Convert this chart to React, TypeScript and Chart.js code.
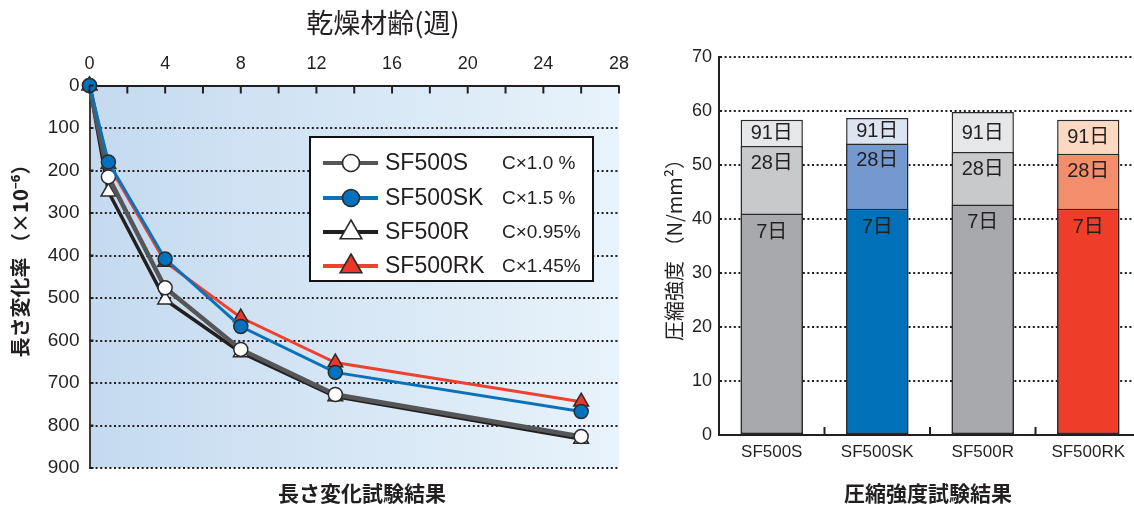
import React, { useEffect, useRef } from "react";
import { Chart, registerables } from "chart.js";

Chart.register(...registerables);

// ---------- Left chart: length change (×10^-6) vs drying age (weeks) ----------
const dryingWeeks = [0, 1, 4, 8, 13, 26];
const lenSF500S = [0, 215, 476, 621, 727, 826];
const lenSF500SK = [0, 180, 408, 567, 675, 767];
const lenSF500R = [0, 250, 504, 628, 732, 832];
const lenSF500RK = [0, 185, 415, 546, 652, 744];
const lengthSeriesNames = ["SF500S", "SF500SK", "SF500R", "SF500RK"];
const cementNotes = ["C×1.0 %", "C×1.5 %", "C×0.95%", "C×1.45%"];
const weekTickLabels = [0, 4, 8, 12, 16, 20, 24, 28];
const weekMinorTicks = [0, 2, 4, 6, 8, 10, 12, 14, 16, 18, 20, 22, 24, 26, 28];
const lengthTickLabels = [0, 100, 200, 300, 400, 500, 600, 700, 800, 900];

// ---------- Right chart: compressive strength (N/mm2) ----------
const mixNames = ["SF500S", "SF500SK", "SF500R", "SF500RK"];
const ageLabels = ["7日", "28日", "91日"];
const strength7d = [41.0, 41.9, 42.7, 41.9];
const strength28d = [53.5, 54.0, 52.4, 52.1];
const strength91d = [58.4, 58.7, 59.8, 58.4];
const strengthTicks = [0, 10, 20, 30, 40, 50, 60, 70];

// ---------- styles ----------
const LATIN = '"Liberation Sans", Arial, "Noto Sans CJK JP", sans-serif';
const CJK = '"Noto Sans CJK JP", "Noto Sans", sans-serif';
const INK = "#231f20";
const lineColors = ["#555658", "#0b72b9", "#231f20", "#ee4130"];
const lineWidths = [4.5, 3, 3.5, 3];
const markerFills = ["#ffffff", "#0071bc", "#ffffff", "#e8382a"];
const markerStyles = ["circle", "circle", "triangle", "triangle"];
const drawOrder = [1, 0, 3, 2];
const color7 = ["#a7a8ab", "#0070b9", "#a7a8ab", "#ee3e2a"];
const color28 = ["#c8c9cb", "#7399d0", "#c8c9cb", "#f48d6c"];
const color91 = ["#e6e7e9", "#dce4f2", "#e6e7e9", "#fdd9c2"];

const LEFT_W = 640;
const RIGHT_X = 645;
const RIGHT_W = 497;
const H = 506;

function drawTriangle(ctx: CanvasRenderingContext2D, cx: number, cy: number, r: number) {
  const s = Math.sin(Math.PI / 3);
  ctx.beginPath();
  ctx.moveTo(cx, cy - r);
  ctx.lineTo(cx + r * s, cy + r / 2);
  ctx.lineTo(cx - r * s, cy + r / 2);
  ctx.closePath();
}

const leftPlugin = {
  id: "leftDecor",
  beforeDraw(chart: any) {
    const { ctx, chartArea: a } = chart;
    const g = ctx.createLinearGradient(a.left, 0, a.right, 0);
    g.addColorStop(0, "#c5daef");
    g.addColorStop(1, "#e8f3fb");
    ctx.save();
    ctx.fillStyle = g;
    ctx.fillRect(a.left, a.top, a.right - a.left, a.bottom - a.top);
    ctx.restore();
  },
  afterDraw(chart: any) {
    const { ctx, chartArea: a } = chart;
    const xs = chart.scales.x;
    const ys = chart.scales.y;
    ctx.save();
    // inner ticks on top axis
    ctx.strokeStyle = INK;
    ctx.lineWidth = 2;
    weekMinorTicks.forEach((w) => {
      const x = xs.getPixelForValue(w);
      ctx.beginPath();
      ctx.moveTo(x, a.top);
      ctx.lineTo(x, a.top + 8);
      ctx.stroke();
    });
    // short solid ticks on left axis
    lengthTickLabels.forEach((v) => {
      const y = ys.getPixelForValue(v);
      ctx.beginPath();
      ctx.moveTo(a.left, y);
      ctx.lineTo(a.left + 4, y);
      ctx.stroke();
    });

    // legend
    const bx = 310, by = 137, bw = 283, bh = 144;
    ctx.fillStyle = "#ffffff";
    ctx.fillRect(bx, by, bw, bh);
    ctx.lineWidth = 2;
    ctx.strokeStyle = "#111";
    ctx.strokeRect(bx, by, bw, bh);
    const rows = [163, 198, 232, 266];
    lengthSeriesNames.forEach((name, i) => {
      const cy = rows[i];
      ctx.strokeStyle = lineColors[i];
      ctx.lineWidth = 4;
      ctx.beginPath();
      ctx.moveTo(323, cy);
      ctx.lineTo(378, cy);
      ctx.stroke();
      ctx.fillStyle = markerFills[i];
      ctx.strokeStyle = "#2b2b2b";
      ctx.lineWidth = 1.6;
      if (markerStyles[i] === "circle") {
        ctx.beginPath();
        ctx.arc(351, cy, 8.5, 0, Math.PI * 2);
      } else {
        drawTriangle(ctx, 351, cy + 0.5, 12.5);
      }
      ctx.fill();
      ctx.stroke();
      ctx.fillStyle = INK;
      ctx.textBaseline = "middle";
      ctx.textAlign = "left";
      ctx.font = `23px ${LATIN}`;
      ctx.fillText(name, 385, cy + 1);
      ctx.font = `19px ${LATIN}`;
      ctx.fillText(cementNotes[i], 502, cy + 1);
    });

    // titles
    ctx.fillStyle = INK;
    ctx.textAlign = "center";
    ctx.textBaseline = "middle";
    ctx.font = `27px ${CJK}`;
    ctx.fillText("乾燥材齢(週)", 383, 23);
    ctx.font = `bold 21px ${CJK}`;
    ctx.fillText("長さ変化試験結果", 362, 493);
    ctx.translate(20, 256);
    ctx.rotate(-Math.PI / 2);
    ctx.font = `bold 20px ${CJK}`;
    ctx.fillText("長さ変化率 （×10⁻⁶）", 0, 0);
    ctx.restore();
  },
};

const rightPlugin = {
  id: "rightDecor",
  afterDatasetsDraw(chart: any) {
    const { ctx, chartArea: a } = chart;
    const m7 = chart.getDatasetMeta(0).data;
    const m28 = chart.getDatasetMeta(1).data;
    const m91 = chart.getDatasetMeta(2).data;
    ctx.save();
    ctx.fillStyle = INK;
    ctx.textAlign = "center";
    ctx.textBaseline = "middle";
    ctx.font = `20px ${LATIN}`;
    mixNames.forEach((_, i) => {
      ctx.fillText(ageLabels[2], m91[i].x, (m91[i].y + m28[i].y) / 2 + 1);
      ctx.fillText(ageLabels[1], m28[i].x, m28[i].y + 17.5);
      ctx.fillText(ageLabels[0], m7[i].x, m7[i].y + 18.5);
    });
    // small inner ticks between categories
    ctx.strokeStyle = INK;
    ctx.lineWidth = 2;
    for (let i = 0; i < m7.length - 1; i++) {
      const x = (m7[i].x + m7[i + 1].x) / 2;
      ctx.beginPath();
      ctx.moveTo(x, a.bottom);
      ctx.lineTo(x, a.bottom - 8);
      ctx.stroke();
    }
    ctx.restore();
  },
  afterDraw(chart: any) {
    const { ctx } = chart;
    ctx.save();
    ctx.fillStyle = INK;
    ctx.textAlign = "center";
    ctx.textBaseline = "middle";
    ctx.font = `bold 21px ${CJK}`;
    ctx.fillText("圧縮強度試験結果", 928 - RIGHT_X, 493);
    ctx.translate(674 - RIGHT_X, 245);
    ctx.rotate(-Math.PI / 2);
    ctx.font = `20px ${CJK}`;
    ctx.fillText("圧縮強度 （N/mm²）", 0, 0);
    ctx.restore();
  },
};

function LengthChart() {
  const ref = useRef<HTMLCanvasElement>(null);
  useEffect(() => {
    const series = [lenSF500S, lenSF500SK, lenSF500R, lenSF500RK];
    const chart = new Chart(ref.current as HTMLCanvasElement, {
      type: "line",
      data: {
        datasets: series.map((ys, i) => ({
          label: lengthSeriesNames[i],
          data: dryingWeeks.map((w, k) => ({ x: w, y: ys[k] })),
          borderColor: lineColors[i],
          borderWidth: lineWidths[i],
          backgroundColor: markerFills[i],
          pointStyle: markerStyles[i] as any,
          pointRadius: markerStyles[i] === "circle" ? 7 : 8.5,
          pointBackgroundColor: markerFills[i],
          pointBorderColor: "#2b2b2b",
          pointBorderWidth: 1.5,
          tension: 0,
          fill: false,
          clip: false as any,
          order: drawOrder[i],
        })),
      },
      options: {
        responsive: false,
        animation: false,
        events: [],
        layout: { padding: { left: 0, top: 0, right: LEFT_W - 622, bottom: H - 468 }, autoPadding: false } as any,
        plugins: { legend: { display: false }, tooltip: { enabled: false }, title: { display: false } },
        scales: {
          x: {
            type: "linear",
            position: "top",
            min: 0,
            max: 28,
            afterFit: (s: any) => { s.height = 85.5; },
            afterBuildTicks: (s: any) => { s.ticks = weekTickLabels.map((v) => ({ value: v })); },
            ticks: { font: { family: LATIN, size: 18 }, color: INK, padding: 11, maxRotation: 0, autoSkip: false },
            grid: { drawOnChartArea: false, drawTicks: false },
            border: { display: true, color: INK, width: 2 },
          },
          y: {
            type: "linear",
            reverse: true,
            min: 0,
            max: 900,
            afterFit: (s: any) => { s.width = 89.5; },
            afterBuildTicks: (s: any) => { s.ticks = lengthTickLabels.map((v) => ({ value: v })); },
            ticks: { font: { family: LATIN, size: 19 }, color: INK, padding: 10, autoSkip: false },
            grid: { color: INK, lineWidth: 2, drawTicks: false },
            border: { display: true, color: "#3a3a3a", width: 2, dash: [2, 2.6] },
          },
        },
      },
      plugins: [leftPlugin],
    });
    return () => chart.destroy();
  }, []);
  return (
    <canvas
      ref={ref}
      width={LEFT_W}
      height={H}
      style={{ position: "absolute", left: 0, top: 0, width: LEFT_W, height: H }}
    />
  );
}

function StrengthChart() {
  const ref = useRef<HTMLCanvasElement>(null);
  useEffect(() => {
    const common = {
      borderColor: "#2b2b2b",
      borderWidth: 1.5,
      borderSkipped: false as any,
      grouped: false,
      categoryPercentage: 1,
      barPercentage: 0.59,
    };
    const chart = new Chart(ref.current as HTMLCanvasElement, {
      type: "bar",
      data: {
        labels: mixNames,
        datasets: [
          { label: ageLabels[0], data: strength7d, backgroundColor: color7, order: 0, ...common },
          { label: ageLabels[1], data: strength28d, backgroundColor: color28, order: 1, ...common },
          { label: ageLabels[2], data: strength91d, backgroundColor: color91, order: 2, ...common },
        ] as any,
      },
      options: {
        responsive: false,
        animation: false,
        events: [],
        layout: { padding: { left: 0, top: 57, right: 1, bottom: 0 }, autoPadding: false } as any,
        plugins: { legend: { display: false }, tooltip: { enabled: false }, title: { display: false } },
        scales: {
          x: {
            afterFit: (s: any) => { s.height = H - 435; },
            ticks: { font: { family: LATIN, size: 17 }, color: INK, padding: 7, maxRotation: 0, autoSkip: false },
            grid: { display: false, drawTicks: false },
            border: { display: true, color: INK, width: 2 },
          },
          y: {
            min: 0,
            max: 70,
            afterFit: (s: any) => { s.width = 719 - RIGHT_X; },
            afterBuildTicks: (s: any) => { s.ticks = strengthTicks.map((v) => ({ value: v })); },
            ticks: { font: { family: LATIN, size: 18 }, color: INK, padding: 7, autoSkip: false },
            grid: { color: INK, lineWidth: 2, drawTicks: false },
            border: { display: true, color: INK, width: 2, dash: [2, 2.6] },
          },
        },
      },
      plugins: [rightPlugin],
    });
    return () => chart.destroy();
  }, []);
  return (
    <canvas
      ref={ref}
      width={RIGHT_W}
      height={H}
      style={{ position: "absolute", left: RIGHT_X, top: 0, width: RIGHT_W, height: H }}
    />
  );
}

export default function App() {
  return (
    <div
      style={{
        position: "fixed",
        left: 0,
        top: 0,
        width: 1134,
        height: H,
        overflow: "hidden",
        background: "#ffffff",
      }}
    >
      <LengthChart />
      <StrengthChart />
    </div>
  );
}
